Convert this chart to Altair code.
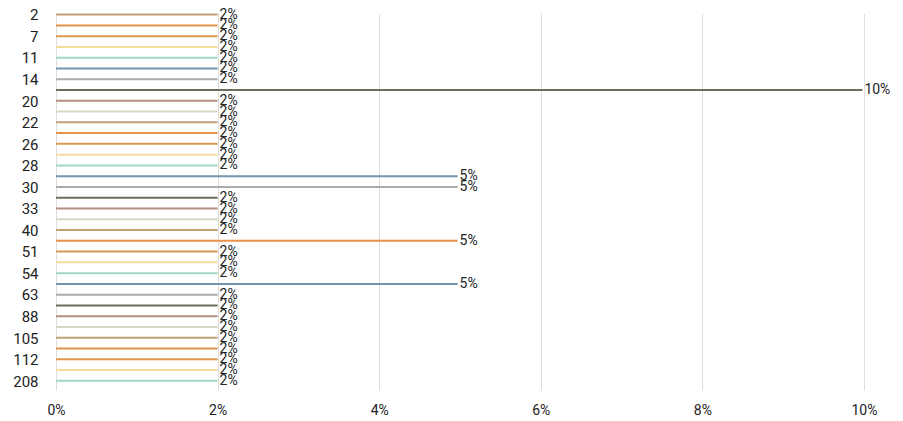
import altair as alt
import pandas as pd

categories = ["2", "5", "7", "9", "11", "13", "14", "17", "20", "21", "22", "24",
              "26", "27", "28", "29", "30", "32", "33", "35", "40", "45", "51", "52",
              "54", "60", "63", "70", "88", "100", "105", "110", "112", "150", "208"]
values = [0.02, 0.02, 0.02, 0.02, 0.02, 0.02, 0.02, 0.0998, 0.02, 0.02, 0.02, 0.02,
          0.02, 0.02, 0.02, 0.0497, 0.0497, 0.02, 0.02, 0.02, 0.02, 0.0497, 0.02, 0.02,
          0.02, 0.0497, 0.02, 0.02, 0.02, 0.02, 0.02, 0.02, 0.02, 0.02, 0.02]
shown_labels = ["2", "7", "11", "14", "20", "22", "26", "28", "30", "33", "40",
                "51", "54", "63", "88", "105", "112", "208"]
palette = ["#c49e74", "#e8914a", "#d99a4e", "#f2dd9e", "#a4d6c4",
           "#7294ae", "#ababab", "#6c6e5c", "#b48e7e", "#dad7c5"]
x_ticks = [0, 0.02, 0.04, 0.06, 0.08, 0.10]

df = pd.DataFrame({"cat": categories, "val": values})

y_enc = alt.Y("cat:O", sort=categories, bandPosition=0.15,
              scale=alt.Scale(paddingInner=0, paddingOuter=0),
              axis=alt.Axis(title=None, values=shown_labels, domain=False, ticks=False,
                            labelOffset=-3,
                            labelPadding=18, labelFontSize=15, labelColor="#222",
                            labelFont="Roboto", grid=False, labelOverlap=False))
x_enc = alt.X("val:Q", scale=alt.Scale(domain=[0, 0.1], nice=False),
              axis=alt.Axis(title=None, values=x_ticks, format=".0%", domain=False,
                            ticks=False, labelPadding=13, labelFontSize=14,
                            labelColor="#222", labelFont="Roboto", labelFlush=False,
                            labelBound=False, labelOverlap=False,
                            grid=True, gridColor="#dddddd", gridWidth=1))

bars = alt.Chart(df).mark_rule(strokeWidth=2).encode(
    y=y_enc,
    x=x_enc,
    x2=alt.value(0),
    color=alt.Color("cat:N", sort=categories,
                    scale=alt.Scale(domain=categories, range=palette), legend=None),
)

labels = alt.Chart(df).mark_text(align="left", baseline="middle", dx=2,
                                 fontSize=14, font="Roboto", color="#222").encode(
    y=alt.Y("cat:O", sort=categories, bandPosition=0.15),
    x=alt.X("val:Q"),
    text=alt.Text("val:Q", format=".0%"),
)

chart = alt.layer(bars, labels).properties(
    width=808, height=377,
    autosize=alt.AutoSizeParams(type="none"),
    padding={"left": 48, "top": 5, "right": 30, "bottom": 28},
).configure(background="white").configure_view(stroke=None, strokeWidth=0)

chart.save("out.html", embed_options={"renderer": "svg", "actions": False})
